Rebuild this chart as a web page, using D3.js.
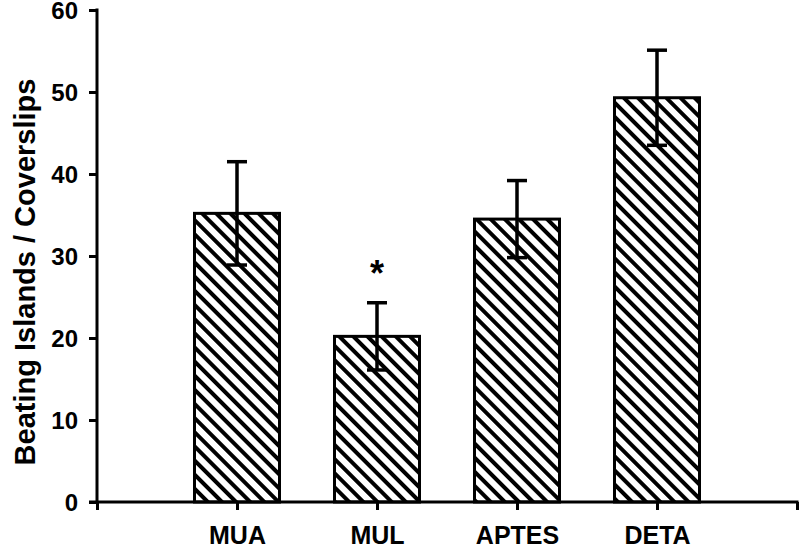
<!DOCTYPE html>
<html><head><meta charset="utf-8">
<script src="https://cdn.jsdelivr.net/npm/d3@7"></script>
<style>body{margin:0;background:#fff}svg{display:block}</style>
</head><body>
<svg id="c" width="799" height="549"></svg>
<script>
const categories = ["MUA", "MUL", "APTES", "DETA"];
const means = [35.2, 20.2, 34.5, 49.3];
const errors = [6.3, 4.1, 4.7, 5.8];
const significant = [false, true, false, false];
const yTicks = [0, 10, 20, 30, 40, 50, 60];

const svg = d3.select("#c");
const x0 = 97, x1 = 797, yB = 502, yT = 10;
const x = d3.scaleLinear().domain([0, categories.length + 1]).range([x0, x1]);
const y = d3.scaleLinear().domain([0, 60]).range([yB, yT]);
const barW = 85;
const font = "'Liberation Sans', Arial, sans-serif";

const defs = svg.append("defs");
const pat = defs.append("pattern").attr("id", "hatch").attr("patternUnits", "userSpaceOnUse")
  .attr("width", 10).attr("height", 10).attr("patternTransform", "rotate(-45)");
pat.append("rect").attr("width", 10).attr("height", 10).attr("fill", "#fff");
pat.append("line").attr("x1", 2).attr("y1", 0).attr("x2", 2).attr("y2", 10)
  .attr("stroke", "#000").attr("stroke-width", 4);

const idx = categories.map((c, i) => i + 1);

// bars
svg.selectAll("rect.bar").data(categories).enter().append("rect")
  .attr("x", (d, i) => x(idx[i]) - barW / 2)
  .attr("y", (d, i) => y(means[i]))
  .attr("width", barW)
  .attr("height", (d, i) => yB - y(means[i]))
  .attr("fill", "url(#hatch)").attr("stroke", "#000").attr("stroke-width", 3);

// error bars
const eb = svg.append("g").attr("stroke", "#000").attr("stroke-width", 3.5);
categories.forEach((c, i) => {
  const cx = x(idx[i]);
  eb.append("line").attr("x1", cx).attr("x2", cx).attr("y1", y(means[i] + errors[i])).attr("y2", y(means[i] - errors[i]));
  [means[i] + errors[i], means[i] - errors[i]].forEach(v => {
    eb.append("line").attr("x1", cx - 10).attr("x2", cx + 10).attr("y1", y(v)).attr("y2", y(v));
  });
  if (significant[i]) {
    svg.append("text").attr("x", cx).attr("y", y(means[i] + errors[i]) - 17)
      .attr("text-anchor", "middle").attr("font-family", font).attr("font-weight", "bold")
      .attr("font-size", 36).text("*");
  }
});

// y axis
const yAxis = d3.axisLeft(y).tickValues(yTicks).tickSize(8).tickPadding(10).tickSizeOuter(0);
const gy = svg.append("g").attr("transform", `translate(${x0},0)`).call(yAxis);
gy.select(".domain").attr("stroke-width", 3).attr("d", `M0,${yB + 1.5}V${yT - 1.5}`);
gy.selectAll(".tick line").attr("stroke-width", 3);
gy.selectAll(".tick text").attr("font-family", font).attr("font-weight", "bold").attr("font-size", 24).attr("fill", "#000")
  .attr("x", -19).attr("dy", "0.36em");

// x axis
const xAxis = d3.axisBottom(x).tickValues(d3.range(0, categories.length + 2)).tickSize(8).tickSizeOuter(0)
  .tickFormat(d => (d >= 1 && d <= categories.length) ? categories[d - 1] : "");
const gx = svg.append("g").attr("transform", `translate(0,${yB})`).call(xAxis);
gx.select(".domain").attr("stroke-width", 3).attr("d", `M${x0 - 8},0H${x1 + 1.5}`);
gx.selectAll(".tick line").attr("stroke-width", 3);
gx.selectAll(".tick text").attr("font-family", font).attr("font-weight", "bold").attr("font-size", 25)
  .attr("fill", "#000").attr("dy", 0).attr("y", 42);

// y title
svg.append("text").attr("transform", "translate(35,272) rotate(-90)")
  .attr("text-anchor", "middle").attr("font-family", font).attr("font-weight", "bold")
  .attr("font-size", 29).text("Beating Islands / Coverslips");
</script>
</body></html>
